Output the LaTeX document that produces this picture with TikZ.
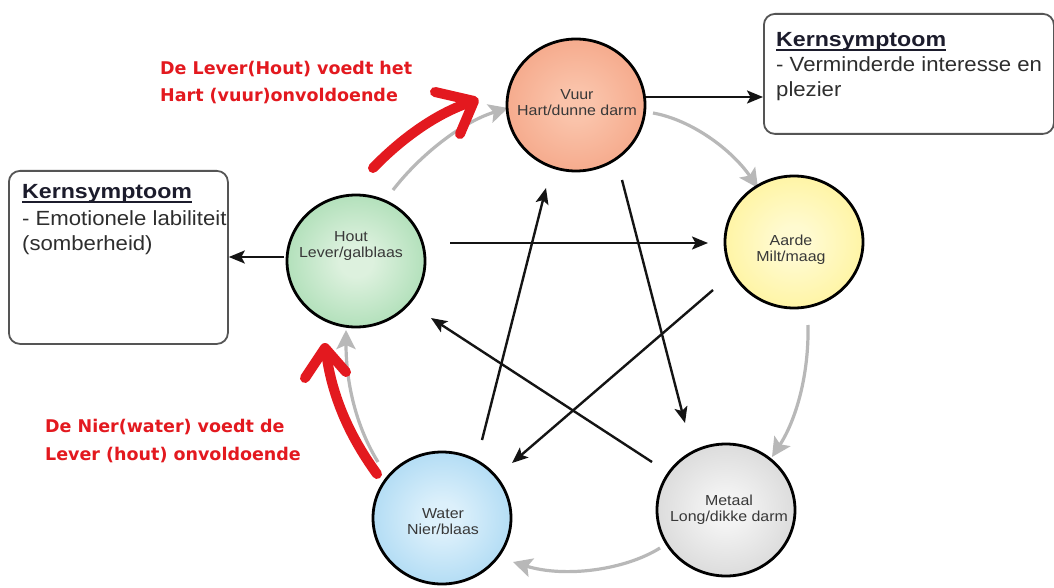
\documentclass[tikz,border=0pt]{standalone}
\usepackage{fontspec}
\setmainfont{Liberation Sans}
\newfontfamily\boxfont[FakeStretch=1.08]{Liberation Sans}
\newfontfamily\hdfont[FakeStretch=1.13]{Liberation Sans}
\newfontfamily\circfont[FakeStretch=1.1]{Liberation Sans}
\newfontfamily\redfont{DejaVu Sans}
\usetikzlibrary{arrows.meta,shapes.geometric}

\definecolor{vuurin}{HTML}{FAC3AA}
\definecolor{vuurout}{HTML}{F08C68}
\definecolor{houtin}{HTML}{DDF1DE}
\definecolor{houtout}{HTML}{7CCB8E}
\definecolor{aardein}{HTML}{FFFAD0}
\definecolor{aardeout}{HTML}{FFEE6E}
\definecolor{waterin}{HTML}{DCF0FB}
\definecolor{waterout}{HTML}{7FC4EC}
\definecolor{metaalin}{HTML}{F3F3F3}
\definecolor{metaalout}{HTML}{BEBEBE}
\definecolor{annored}{HTML}{E3191F}
\definecolor{ringgray}{HTML}{B8B8B8}
\definecolor{boxline}{HTML}{555555}
\definecolor{circtext}{HTML}{383838}
\definecolor{headcol}{HTML}{1C1C2C}
\definecolor{bodycol}{HTML}{2E2E2E}

\pgfdeclareradialshading{vuurshade}{\pgfpoint{0bp}{0bp}}{color(0bp)=(vuurin); color(6bp)=(vuurin); color(50bp)=(vuurout)}
\pgfdeclareradialshading{houtshade}{\pgfpoint{0bp}{0bp}}{color(0bp)=(houtin); color(6bp)=(houtin); color(50bp)=(houtout)}
\pgfdeclareradialshading{aardeshade}{\pgfpoint{0bp}{0bp}}{color(0bp)=(aardein); color(6bp)=(aardein); color(50bp)=(aardeout)}
\pgfdeclareradialshading{watershade}{\pgfpoint{0bp}{0bp}}{color(0bp)=(waterin); color(6bp)=(waterin); color(50bp)=(waterout)}
\pgfdeclareradialshading{metaalshade}{\pgfpoint{0bp}{0bp}}{color(0bp)=(metaalin); color(6bp)=(metaalin); color(50bp)=(metaalout)}

\begin{document}
\begin{tikzpicture}[x=1pt,y=-1pt,
  elem/.style={ellipse, draw=black, line width=2.8pt, minimum width=138pt, minimum height=132pt, inner sep=0pt, shade},
  ctext/.style={font=\circfont\fontsize{14.5}{16}\selectfont, text=circtext, align=center, inner sep=0pt},
  kbox/.style={draw=boxline, line width=1.8pt, rounded corners=11pt, fill=white, inner sep=0pt, anchor=north west},
  hd/.style={font=\hdfont\bfseries\fontsize{20.5}{20}\selectfont, text=headcol, inner sep=0pt, anchor=base west},
  bd/.style={font=\boxfont\fontsize{20.5}{20}\selectfont, text=bodycol, inner sep=0pt, anchor=base west},
  ul/.style={line width=1.4pt, draw=headcol},
  rtext/.style={font=\redfont\bfseries\fontsize{17.5}{20}\selectfont, text=annored, inner sep=0pt, anchor=base west},
  blk/.style={draw=black!92, line width=2.4pt, -{Stealth[length=16pt,width=13pt,inset=3.5pt]}},
  ring/.style={draw=ringgray, line width=3.2pt, -{Stealth[length=19pt,width=19pt,inset=4pt]}},
  redarrow/.style={draw=annored, line width=10pt, line cap=round, line join=round}
]
\fill[white] (0,0) rectangle (1054,588);
\useasboundingbox (0,0) rectangle (1054,588);

% boxes
\node[kbox, minimum width=290pt, minimum height=120pt] (rbox) at (763,13) {};
\node[kbox, minimum width=219pt, minimum height=173pt] (lbox) at (8,170) {};

\node[hd] (rk) at (776,47) {Kernsymptoom};
\draw[ul] ([yshift=-3pt]rk.base west) -- ([yshift=-3pt]rk.base east);
\node[bd] (r1) at (776,72) {- Verminderde interesse en};
\node[bd] (r2) at (776,97) {plezier};

\node[hd] (lk) at (22,199) {Kernsymptoom};
\draw[ul] ([yshift=-3pt]lk.base west) -- ([yshift=-3pt]lk.base east);
\node[bd] (l1) at (22,225) {- Emotionele labiliteit};
\node[bd] (l2) at (22,250) {(somberheid)};

% named end points of connectors
\coordinate (hAs) at (450,243);  \coordinate (hAe) at (708,243);
\coordinate (aWs) at (713,290);  \coordinate (aWe) at (512,463);
\coordinate (wVs) at (482,440);  \coordinate (wVe) at (546,188);
\coordinate (vMs) at (622,180);  \coordinate (vMe) at (685,423);
\coordinate (mHs) at (652,462);  \coordinate (mHe) at (431,318);
\coordinate (vRs) at (645,97);
\coordinate (hLs) at (284,257);

\coordinate (hVs) at (393,190);  \coordinate (hVe) at (508,108);
\coordinate (vAs) at (653,113);  \coordinate (vAe) at (758,188);
\coordinate (aMs) at (808,325);  \coordinate (aMe) at (772,457);
\coordinate (mWs) at (660,548);  \coordinate (mWe) at (513,562);
\coordinate (wHs) at (378,462);  \coordinate (wHe) at (346,330);

% grey generating cycle
\draw[ring] (hVs) .. controls (420,155) and (462,122) .. (hVe);
\draw[ring] (vAs) .. controls (692,120) and (732,150) .. (vAe);
\draw[ring] (aMs) .. controls (809,375) and (796,420) .. (aMe);
\draw[ring] (mWs) .. controls (625,570) and (565,578) .. (mWe);
\draw[ring] (wHs) .. controls (357,428) and (346,385) .. (wHe);

% black controlling cycle
\draw[blk] (hAs) -- (hAe);
\draw[blk] (aWs) -- (aWe);
\draw[blk] (wVs) -- (wVe);
\draw[blk] (vMs) -- (vMe);
\draw[blk] (mHs) -- (mHe);
\draw[blk] (vRs) -- (rbox.west |- vRs);
\draw[blk] (hLs) -- (lbox.east |- hLs);

% elements
\node[elem, shading=vuurshade] (vuur) at (576,105) {};
\node[elem, shading=houtshade] (hout) at (356,261) {};
\node[elem, shading=aardeshade] (aarde) at (794,242) {};
\node[elem, shading=watershade] (water) at (442,518) {};
\node[elem, shading=metaalshade] (metaal) at (726,510) {};

\node[ctext] (vuurtxt) at (577,103) {Vuur\\Hart/dunne darm};
\node[ctext] (houttxt) at (351,246) {Hout\\Lever/galblaas};
\node[ctext] (aardetxt) at (791,250) {Aarde\\Milt/maag};
\node[ctext] (watertxt) at (443,522) {Water\\Nier/blaas};
\node[ctext] (metaaltxt) at (729,510) {Metaal\\Long/dikke darm};

% red annotations
\node[rtext] (rt1) at (160,75) {De Lever(Hout) voedt het};
\node[rtext] (rt2) at (160,102) {Hart (vuur)onvoldoende};
\node[rtext] (rb1) at (45,432) {De Nier(water) voedt de};
\node[rtext] (rb2) at (45,460) {Lever (hout) onvoldoende};

\draw[redarrow] (373,168) .. controls (405,135) and (440,112) .. (471,102);
\draw[redarrow] (435,92) -- (474,101) -- (460,134);
\draw[redarrow] (377,474) .. controls (356,445) and (333,405) .. (326,352);
\draw[redarrow] (305,378) -- (325,348) -- (346,372);
\end{tikzpicture}
\end{document}
